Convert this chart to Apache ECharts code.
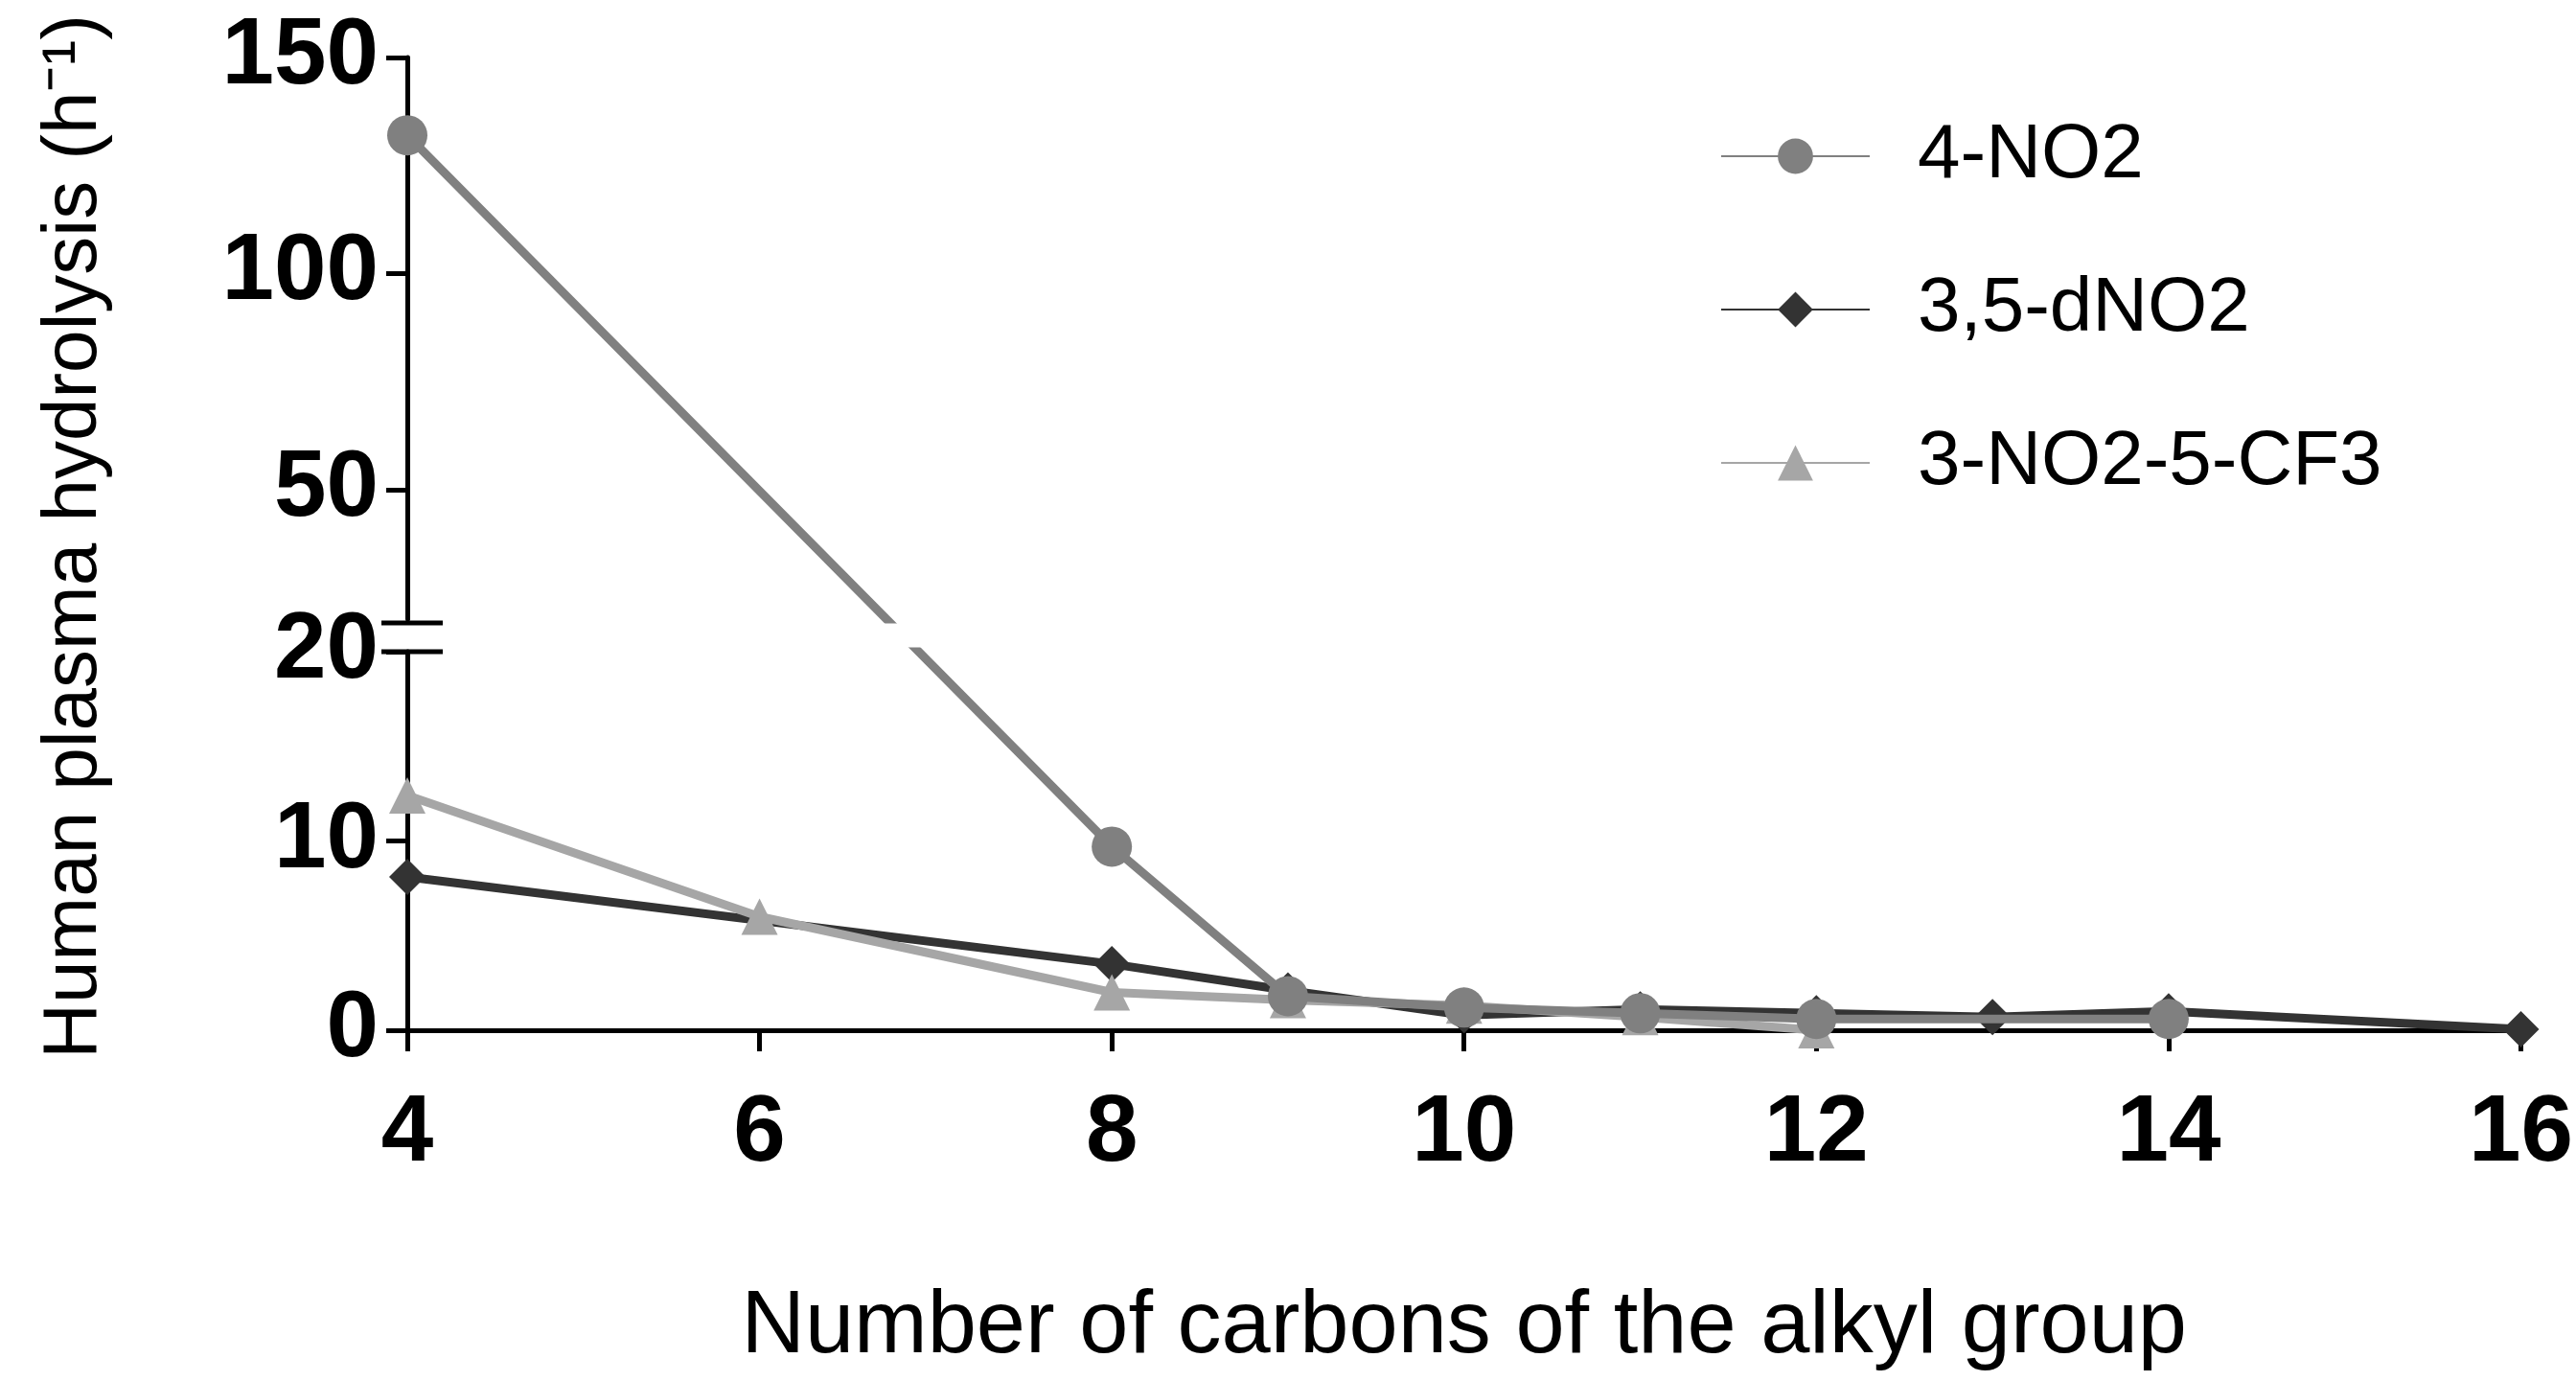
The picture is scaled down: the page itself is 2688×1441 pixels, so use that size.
<!DOCTYPE html>
<html><head><meta charset="utf-8">
<script src="https://cdn.jsdelivr.net/npm/echarts@6/dist/echarts.min.js"></script>
<style>html,body{margin:0;background:#fff}#c{width:2688px;height:1441px}</style>
</head><body><div id="c"></div>
<script>
const xTicks = [4, 6, 8, 10, 12, 14, 16];
const s4NO2 = [[4,132],[8,9.7],[9,1.8],[10,1.2],[11,0.9],[12,0.6],[14,0.6]];
const s35dNO2 = [[4,8.1],[8,3.5],[9,2.1],[10,0.8],[11,1.1],[12,0.9],[13,0.7],[14,1.0],[16,0.05]];
const sCF3 = [[4,12.4],[6,6.0],[8,2.0],[9,1.6],[10,1.3],[11,0.7],[12,0.0]];
const upperTicks = [50, 100, 150];
const breakAt = 20;

const F = 'Liberation Sans, Arial, sans-serif';
const styles = [
  {name:'4-NO2', data:s4NO2, color:'#808080', symbol:'circle', size:42},
  {name:'3,5-dNO2', data:s35dNO2, color:'#333333', symbol:'diamond', size:38},
  {name:'3-NO2-5-CF3', data:sCF3, color:'#a6a6a6', symbol:'triangle', size:38}
];
function makeSeries(dataFor) {
  const out = [];
  [0,1].forEach(g => styles.forEach((s,i) => out.push({
    name:s.name, type:'line', xAxisIndex:g, yAxisIndex:g, data:dataFor(s,g), clip:true,
    symbol:s.symbol, symbolSize:s.size, color:s.color,
    lineStyle:{width:9,color:s.color}, itemStyle:{color:s.color}, z: i===0?3:2
  })));
  return out;
}
const axisLine = {show:true, lineStyle:{color:'#000', width:5}};
const lab = {fontSize:98, fontWeight:'bold', color:'#000', fontFamily:F};
const chart = echarts.init(document.getElementById('c'));
chart.setOption({
  animation:false,
  grid:[{left:425, right:55, top:680, height:395},{left:425, right:55, top:60, height:586}],
  xAxis:[
    {type:'value', gridIndex:0, min:4, max:16, interval:2, axisLine, splitLine:{show:false},
     axisTick:{show:true, length:22, lineStyle:{width:5,color:'#000'}},
     axisLabel:Object.assign({margin:60}, lab),
     name:'Number of carbons of the alkyl group', nameLocation:'middle', nameGap:265,
     nameTextStyle:{fontSize:92, color:'#000', fontFamily:F}},
    {type:'value', gridIndex:1, min:4, max:16, show:false}
  ],
  yAxis:[
    {type:'value', gridIndex:0, min:0, max:20, interval:10, axisLine, splitLine:{show:false},
     axisTick:{show:true, length:22, lineStyle:{width:5,color:'#000'}},
     axisLabel:Object.assign({margin:30}, lab)},
    {type:'value', gridIndex:1, min:20, max:150, axisLine, splitLine:{show:false},
     axisTick:{show:true, length:22, customValues:upperTicks, lineStyle:{width:5,color:'#000'}},
     axisLabel:Object.assign({margin:30, customValues:upperTicks}, lab)}
  ],
  legend:{left:1790, top:118, orient:'vertical', itemGap:80, itemWidth:155, itemHeight:46,
    textStyle:{fontSize:80, color:'#000', fontFamily:F, padding:[0,0,0,45]},
    data:styles.map(s=>s.name)},
  graphic:[
    {type:'line', shape:{x1:398,y1:650,x2:462,y2:650}, style:{stroke:'#000',lineWidth:5}},
    {type:'line', shape:{x1:398,y1:680,x2:462,y2:680}, style:{stroke:'#000',lineWidth:5}},
    {type:'text', x:78, y:560, rotation:Math.PI/2, style:{text:'Human plasma hydrolysis (h⁻¹)', fontSize:80, fontFamily:F, fill:'#000', align:'center', verticalAlign:'middle'}}
  ],
  series: makeSeries(s => s.data)
});
// Map each point to its native segment's pixel, then express it in the other segment's scale,
// so lines crossing the axis break stay straight across the gap.
chart.setOption({series: makeSeries((s,g) => s.data.map(([x,y]) => {
  const native = y > breakAt ? 1 : 0;
  if (native === g) return [x,y];
  const px = chart.convertToPixel({gridIndex:native}, [x,y]);
  return chart.convertFromPixel({gridIndex:g}, px);
}))});
</script></body></html>
